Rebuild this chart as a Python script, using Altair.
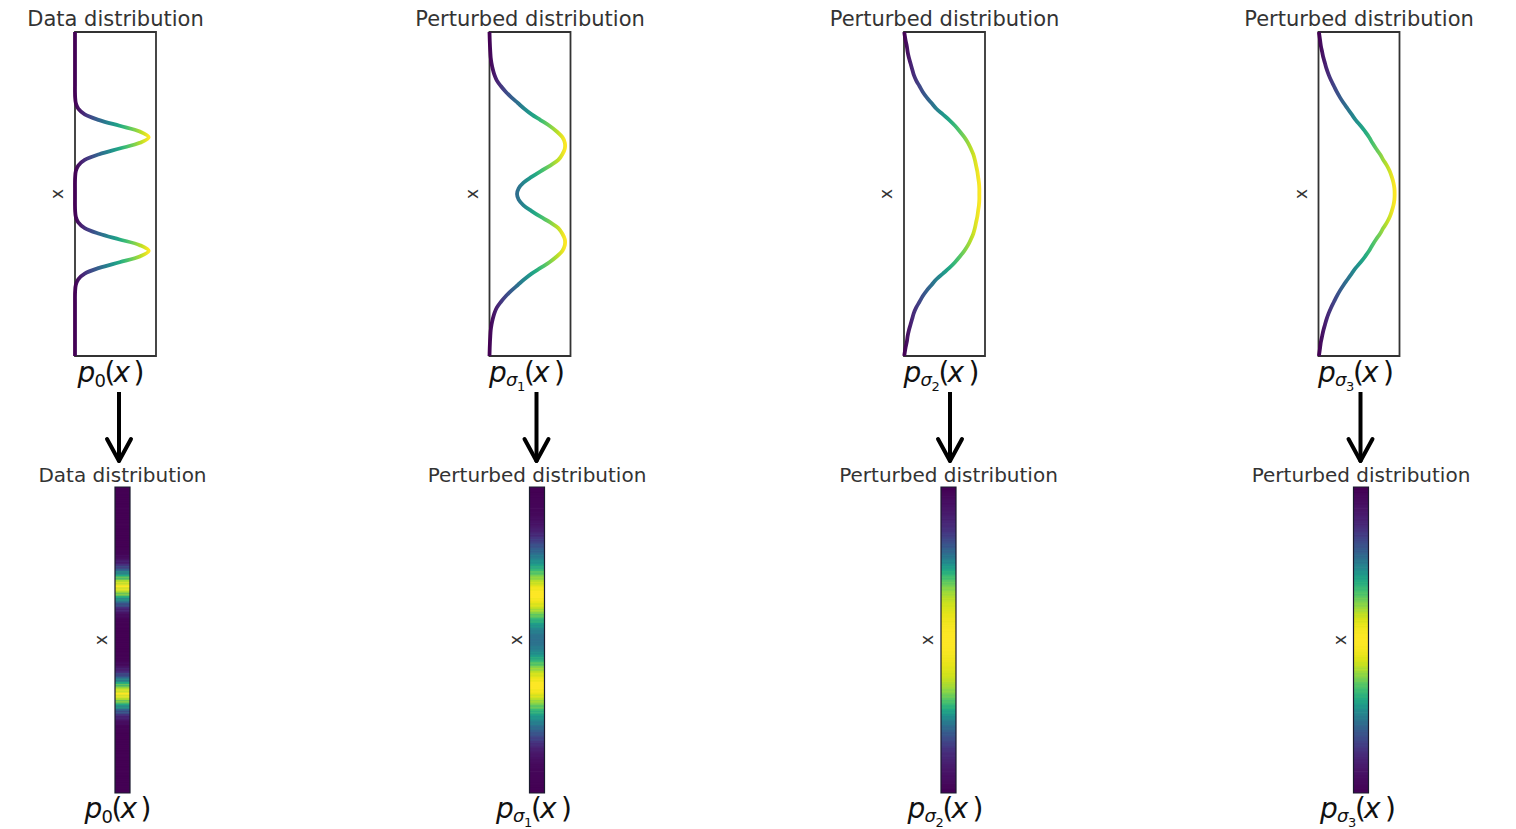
import altair as alt
import pandas as pd

# vertical coordinate x (top = +2.85, bottom = -2.85)
T = [-2.85, -2.8, -2.7, -2.6, -2.5, -2.4, -2.3, -2.2, -2.1, -2.0, -1.9, -1.8, -1.7, -1.6, -1.5,
     -1.4, -1.3, -1.2, -1.1, -1.0, -0.9, -0.8, -0.7, -0.6, -0.5, -0.4, -0.3, -0.2, -0.1, 0.0,
     0.1, 0.2, 0.3, 0.4, 0.5, 0.6, 0.7, 0.8, 0.9, 1.0, 1.1, 1.2, 1.3, 1.4, 1.5, 1.6, 1.7, 1.8,
     1.9, 2.0, 2.1, 2.2, 2.3, 2.4, 2.5, 2.6, 2.7, 2.8, 2.85]

# densities (fraction of panel width)
P0 = [0, 0, 0, 0, 0, 0, 0, 0, 0, 0, 0, 0,
      0.002, 0.01, 0.04, 0.12, 0.30, 0.55, 0.80, 0.91, 0.80, 0.55, 0.30, 0.12, 0.04, 0.01, 0.002,
      0, 0, 0,
      0, 0, 0.002, 0.01, 0.04, 0.12, 0.30, 0.55, 0.80, 0.91, 0.80, 0.55, 0.30, 0.12, 0.04, 0.01, 0.002,
      0, 0, 0, 0, 0, 0, 0, 0, 0, 0, 0, 0]
P1 = [0, 0.001, 0.003, 0.006, 0.01, 0.015, 0.025, 0.04, 0.06, 0.09, 0.14, 0.20, 0.27, 0.35, 0.43,
      0.52, 0.63, 0.74, 0.83, 0.90, 0.93, 0.93, 0.90, 0.85, 0.75, 0.63, 0.52, 0.42, 0.36, 0.34,
      0.36, 0.42, 0.52, 0.63, 0.75, 0.85, 0.90, 0.93, 0.93, 0.90, 0.83, 0.74, 0.63, 0.52, 0.43,
      0.35, 0.27, 0.20, 0.14, 0.09, 0.06, 0.04, 0.025, 0.015, 0.01, 0.006, 0.003, 0.001, 0]
P2 = [0.003, 0.008, 0.02, 0.035, 0.045, 0.06, 0.08, 0.10, 0.12, 0.15, 0.19, 0.23, 0.28, 0.34, 0.40,
      0.48, 0.56, 0.63, 0.69, 0.745, 0.79, 0.825, 0.855, 0.875, 0.89, 0.905, 0.915, 0.925, 0.93, 0.93,
      0.93, 0.925, 0.915, 0.905, 0.89, 0.875, 0.855, 0.825, 0.79, 0.745, 0.69, 0.63, 0.56, 0.48,
      0.40, 0.34, 0.28, 0.23, 0.19, 0.15, 0.12, 0.10, 0.08, 0.06, 0.045, 0.035, 0.02, 0.008, 0.003]
P3 = [0.005, 0.01, 0.02, 0.03, 0.045, 0.06, 0.08, 0.10, 0.125, 0.155, 0.19, 0.225, 0.265, 0.31, 0.36,
      0.41, 0.46, 0.52, 0.575, 0.625, 0.665, 0.71, 0.76, 0.80, 0.845, 0.88, 0.905, 0.925, 0.937, 0.94,
      0.937, 0.925, 0.905, 0.88, 0.845, 0.80, 0.76, 0.71, 0.665, 0.625, 0.575, 0.52, 0.46, 0.41,
      0.36, 0.31, 0.265, 0.225, 0.19, 0.155, 0.125, 0.10, 0.08, 0.06, 0.045, 0.03, 0.02, 0.01, 0.005]

SERIES = [P0, P1, P2, P3]
TITLES = ["Data distribution", "Perturbed distribution", "Perturbed distribution", "Perturbed distribution"]
SUB_INDEX = ["0", "1", "2", "3"]

VIRIDIS = ["#440154", "#482475", "#414487", "#355f8d", "#2a788e", "#21918c",
           "#22a884", "#44bf70", "#7ad151", "#bddf26", "#fde725"]

rows = []
for k, series in enumerate(SERIES):
    for t, d in zip(T, series):
        rows.append({"panel": k, "t": t, "d": d})
df = pd.DataFrame(rows)
one = pd.DataFrame({"v": [0]})

# layout (pixels)
TOP_W, TOP_H = 81, 324
BOT_H = 306
STRIP_W = 15
STRIP_X = [40, 40, 37, 35]      # left edge of the strip inside each lower cell
ARROW_X = [44, 47, 46, 42]      # arrow position inside each upper cell
YDOM = [-2.85, 2.85]
FONT = "DejaVu Sans"
TXT = "#333333"

GRAD = alt.LinearGradient(
    gradient="linear",
    stops=[alt.GradientStop(offset=i / 10, color=c) for i, c in enumerate(VIRIDIS)],
    x1=0, x2=1, y1=0, y2=0,
)


def text(txt, x, y, size, **kw):
    return alt.Chart(one).mark_text(text=txt, font=FONT, fontSize=size, **kw).encode(
        x=alt.value(x), y=alt.value(y))


def math_label(k, cx, base):
    if k == 0:
        parts = [("p", -38, 0, 28, "italic"), ("0", -21, 5, 18, "normal"),
                 ("(", -11, 0, 28, "normal"), ("x", -2, 0, 28, "italic"),
                 (")", 18, 0, 28, "normal")]
    else:
        parts = [("p", -41, 0, 28, "italic"), ("σ", -24, 4, 18, "italic"),
                 (SUB_INDEX[k], -13, 9, 13, "normal"), ("(", -6, 0, 28, "normal"),
                 ("x", 3, 0, 28, "italic"), (")", 24, 0, 28, "normal")]
    return [text(txt, cx + dx, base + dy, fs, align="left", baseline="alphabetic",
                 fontStyle=style, color="#111111")
            for txt, dx, dy, fs, style in parts]


def top_panel(k):
    line = (
        alt.Chart(df).transform_filter(alt.datum.panel == k)
        .mark_line(stroke=GRAD, strokeWidth=3.8, interpolate="catmull-rom")
        .encode(
            x=alt.X("d:Q", scale=alt.Scale(domain=[0, 1], nice=False, zero=False), axis=None),
            y=alt.Y("t:Q", scale=alt.Scale(domain=YDOM, nice=False, zero=False), axis=None),
            order="t:Q",
        )
    )
    ax = ARROW_X[k]
    shaft = alt.Chart(one).mark_rule(color="black", strokeWidth=4).encode(
        x=alt.value(ax), y=alt.value(TOP_H + 36), y2=alt.value(TOP_H + 104))
    head_l = alt.Chart(one).mark_rule(color="black", strokeWidth=4, strokeCap="round").encode(
        x=alt.value(ax - 12), y=alt.value(TOP_H + 83), x2=alt.value(ax), y2=alt.value(TOP_H + 105))
    head_r = alt.Chart(one).mark_rule(color="black", strokeWidth=4, strokeCap="round").encode(
        x=alt.value(ax + 12), y=alt.value(TOP_H + 83), x2=alt.value(ax), y2=alt.value(TOP_H + 105))
    title = text(TITLES[k], TOP_W / 2, -6, 21, align="center", baseline="alphabetic", color=TXT)
    ylab = text("x", -17, TOP_H / 2, 17, align="center", baseline="middle", angle=270, color=TXT)
    layers = [line, shaft, head_l, head_r, title, ylab] + math_label(k, TOP_W / 2, TOP_H + 26)
    return alt.layer(*layers).properties(width=TOP_W, height=TOP_H)


def strip_layer(k, sx, lo_expr, hi_expr, opacity):
    return (
        alt.Chart(df).transform_filter(alt.datum.panel == k)
        .transform_calculate(lo=lo_expr, hi=hi_expr)
        .mark_rect(clip=True, opacity=opacity)
        .encode(
            x=alt.value(sx), x2=alt.value(sx + STRIP_W),
            y=alt.Y("lo:Q", scale=alt.Scale(domain=YDOM, nice=False, zero=False), axis=None),
            y2="hi:Q",
            color=alt.Color("d:Q", scale=alt.Scale(scheme="viridis"), legend=None),
        )
    )


def bottom_panel(k):
    sx = STRIP_X[k]
    base = strip_layer(k, sx, "datum.t - 0.056", "datum.t + 0.056", 1)
    # half-transparent overlaps at each cell border soften the banding (like imshow smoothing)
    up = strip_layer(k, sx, "datum.t + 0.05", "datum.t + 0.0833", 0.5)
    down = strip_layer(k, sx, "datum.t - 0.0833", "datum.t - 0.05", 0.5)
    border = alt.Chart(one).mark_rect(fillOpacity=0, stroke="#1a1a2e", strokeWidth=1.2).encode(
        x=alt.value(sx), x2=alt.value(sx + STRIP_W), y=alt.value(0), y2=alt.value(BOT_H))
    cx = sx + STRIP_W / 2
    title = text(TITLES[k], cx, -5, 20, align="center", baseline="alphabetic", color=TXT)
    ylab = text("x", sx - 13, BOT_H / 2, 17, align="center", baseline="middle", angle=270, color=TXT)
    layers = [base, up, down, border, title, ylab] + math_label(k, cx, BOT_H + 25)
    return alt.layer(*layers).properties(
        width=TOP_W, height=BOT_H, view=alt.ViewBackground(stroke="transparent"))


tops = [top_panel(k) for k in range(4)]
bots = [bottom_panel(k) for k in range(4)]

chart = (
    alt.concat(*tops, *bots, columns=4, spacing={"row": 131, "column": 333.5}, bounds="flush")
    .resolve_scale(color="independent", x="independent", y="independent")
    .properties(padding={"left": 18, "top": 0, "right": 5, "bottom": 0})
    .configure_view(stroke="#333333", strokeWidth=1.8)
)

chart.save("out.html", embed_options={"renderer": "svg", "actions": False})
